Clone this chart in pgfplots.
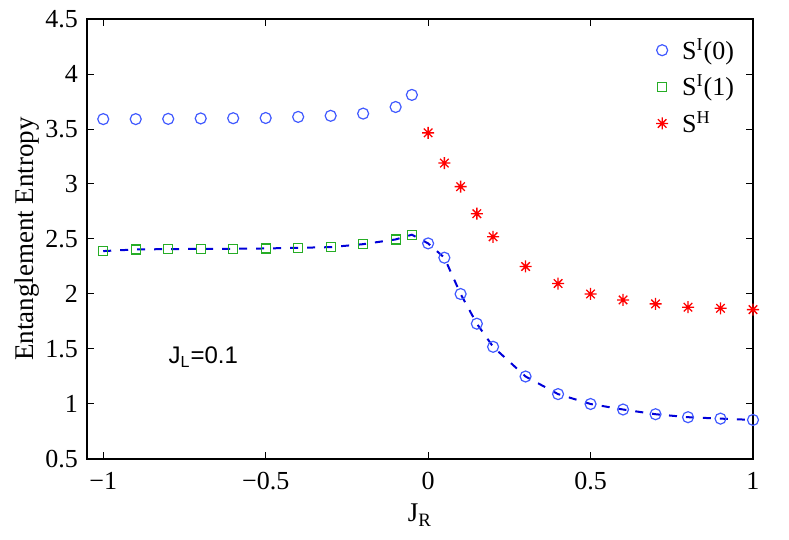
\documentclass[border=0pt]{standalone}
\usepackage{fontspec}
\setmainfont{Liberation Serif}
\newfontfamily\sansJ{Liberation Sans}
\usepackage{pgfplots}
\pgfplotsset{compat=1.18}
\definecolor{mblue}{rgb}{0.25,0.35,1}
\definecolor{mgreen}{rgb}{0.15,0.68,0.15}
\definecolor{lblue}{rgb}{0,0,0.85}
\pgfdeclareplotmark{mstar}{%
  \pgfpathmoveto{\pgfqpoint{-\pgfplotmarksize}{0pt}}\pgfpathlineto{\pgfqpoint{\pgfplotmarksize}{0pt}}%
  \pgfpathmoveto{\pgfqpoint{0pt}{-\pgfplotmarksize}}\pgfpathlineto{\pgfqpoint{0pt}{\pgfplotmarksize}}%
  \pgfpathmoveto{\pgfqpoint{-0.7071\pgfplotmarksize}{-0.7071\pgfplotmarksize}}\pgfpathlineto{\pgfqpoint{0.7071\pgfplotmarksize}{0.7071\pgfplotmarksize}}%
  \pgfpathmoveto{\pgfqpoint{-0.7071\pgfplotmarksize}{0.7071\pgfplotmarksize}}\pgfpathlineto{\pgfqpoint{0.7071\pgfplotmarksize}{-0.7071\pgfplotmarksize}}%
  \pgfusepathqstroke}
\begin{document}
\begin{tikzpicture}
\useasboundingbox (-43.5pt,-40.5pt) rectangle (351pt,229.5pt);
\begin{axis}[
  scale only axis, width=333pt, height=220pt,
  xmin=-1.05, xmax=1, ymin=0.5, ymax=4.5,
  xtick={-1,-0.5,0,0.5,1},
  xticklabels={−1,−0.5,0,0.5,1},
  ytick={0.5,1,1.5,2,2.5,3,3.5,4,4.5},
  yticklabels={0.5,1,1.5,2,2.5,3,3.5,4,4.5},
  tick align=inside, major tick length=3.3pt,
  tick pos=both,
  axis line style={line width=0.6pt},
  tick style={line width=0.5pt, black},
  ticklabel style={font=\fontsize{13}{15}\selectfont},
  xticklabel style={yshift=-3pt},
  yticklabel style={xshift=-1pt},
  xlabel={J\textsubscript{R}},
  ylabel={Entanglement Entropy},
  label style={font=\fontsize{13.5}{15}\selectfont},
  xlabel style={at={(axis description cs:0.5,-0.143)}, anchor=base},
  ylabel style={at={(axis description cs:-0.09,0.5)}, anchor=center},
  legend style={draw=none, fill=none, at={(rel axis cs:0.845,0.975)}, anchor=north west,
    font=\fontsize{13}{15}\selectfont, row sep=2.5pt, column sep=5pt, cells={anchor=west}},
  legend cell align=left,
]
\addplot[lblue, line width=1pt, dash pattern=on 4pt off 4.5pt, forget plot] coordinates {
(-1,2.39) (-0.9,2.405) (-0.8,2.408) (-0.7,2.411) (-0.6,2.411) (-0.5,2.414) (-0.4,2.42) (-0.3,2.426) (-0.2,2.453) (-0.1,2.496) (-0.05,2.539)
(0,2.46) (0.05,2.33) (0.1,2.0) (0.15,1.73) (0.2,1.52) (0.3,1.25) (0.4,1.09) (0.5,1.0) (0.6,0.95) (0.7,0.907) (0.8,0.88) (0.9,0.867) (1.0,0.855)
};
\addplot[only marks, mark=o, mark size=2.75pt, mark options={mblue, line width=0.6pt}] coordinates {
(-1,3.59) (-0.9,3.59) (-0.8,3.592) (-0.7,3.596) (-0.6,3.598) (-0.5,3.60) (-0.4,3.61) (-0.3,3.62) (-0.2,3.64) (-0.1,3.70) (-0.05,3.81)
(0,2.46) (0.05,2.33) (0.1,2.0) (0.15,1.73) (0.2,1.52) (0.3,1.25) (0.4,1.09) (0.5,1.0) (0.6,0.95) (0.7,0.907) (0.8,0.88) (0.9,0.867) (1.0,0.855)
};
\addlegendentry{S\textsuperscript{I}(0)}
\addplot[only marks, mark=square, mark size=2.25pt, mark options={mgreen, line width=0.6pt}] coordinates {
(-1,2.39) (-0.9,2.405) (-0.8,2.408) (-0.7,2.411) (-0.6,2.411) (-0.5,2.414) (-0.4,2.42) (-0.3,2.426) (-0.2,2.453) (-0.1,2.496) (-0.05,2.539)
};
\addlegendentry{S\textsuperscript{I}(1)}
\addplot[only marks, mark=mstar, mark size=3pt, mark options={red, line width=0.65pt}] coordinates {
(0,3.465) (0.05,3.19) (0.1,2.976) (0.15,2.73) (0.2,2.52) (0.3,2.25) (0.4,2.095) (0.5,2.0) (0.6,1.946) (0.7,1.91) (0.8,1.88) (0.9,1.87) (1.0,1.858)
};
\addlegendentry{S\textsuperscript{H}}
\node[anchor=base west, font=\sansJ\fontsize{12}{14}\selectfont, inner sep=0pt] at (axis cs:-0.8,1.366) {J\textsubscript{L}=0.1};
\end{axis}
\end{tikzpicture}
\end{document}
